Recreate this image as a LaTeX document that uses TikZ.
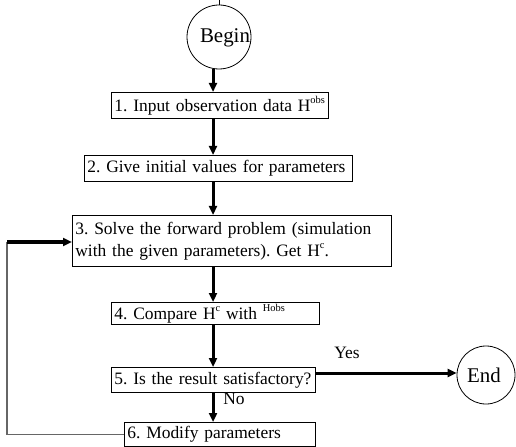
\documentclass[tikz,border=0pt]{standalone}
\usepackage{fontspec}
\setmainfont{Liberation Serif}
\usetikzlibrary{arrows.meta}
\newcommand\supx[1]{\raisebox{0.45em}{\fontsize{10.5}{10.5}\selectfont #1}}
\begin{document}
\frenchspacing
\begin{tikzpicture}[x=1bp,y=-1bp,
  font=\fontsize{17.5}{22}\selectfont\frenchspacing,
  box/.style={draw, line width=0.8bp, anchor=north west, align=left,
    inner xsep=3bp, inner ysep=0pt},
  term/.style={circle, draw, line width=0.8bp, inner sep=0pt},
  bigtxt/.style={font=\fontsize{21}{24}\selectfont, inner sep=0pt},
  arr/.style={line width=3bp, -{Triangle[length=9bp,width=8bp]}},
  fb/.style={line width=1.5bp, draw=black!60}]
\useasboundingbox (0,0) rectangle (516,447);
\coordinate (ax) at (213,0);
% terminals
\node[term, minimum size=64bp] (begin) at (219,37) {};
\node[bigtxt] (begintxt) at (225,38) {Begin};
\node[term, minimum size=58bp] (end) at (486,375) {};
\node[bigtxt] (endtxt) at (484,375) {End};
\draw[line width=0.6bp] (begin.north) -- ++(0,-5);
% boxes
\node[box, text width=211bp, minimum height=26bp] (b1) at (111,92)
  {\mbox{1. Input observation data H\supx{obs}}};
\node[box, text width=262bp, minimum height=26bp] (b2) at (84,155)
  {\mbox{2. Give initial values for parameters}};
\node[box, text width=313bp, minimum height=51bp] (b3) at (72,215)
  {\mbox{3. Solve the forward problem (simulation}\\\mbox{with the given parameters). Get H\supx{c}.}};
\node[box, text width=202bp, minimum height=22bp] (b4) at (111,302)
  {\mbox{4. Compare H\supx{c} with \supx{Hobs}}};
\node[box, text width=198bp, minimum height=25bp] (b5) at (111,367)
  {\mbox{5. Is the result satisfactory?}};
\node[box, text width=185bp, minimum height=24bp] (b6) at (124,422)
  {\mbox{6. Modify parameters}};
% labels
\node (yes) at (347,353) {Yes};
\node (no) at (234,399) {No};
% main arrows
\draw[arr] (begin.south -| ax) -- (b1.north -| ax);
\draw[arr] (b1.south -| ax) -- (b2.north -| ax);
\draw[arr] (b2.south -| ax) -- (b3.north -| ax);
\draw[arr] (b3.south -| ax) -- (b4.north -| ax);
\draw[arr] (b4.south -| ax) -- (b5.north -| ax);
\draw[arr] (b5.south -| ax) -- (b6.north -| ax);
\coordinate (yesy) at (0,373);
\draw[arr] (b5.east |- yesy) -- (end.west |- yesy);
% feedback
\coordinate (fbl) at (7,242);
\draw[fb] (b6.west) -- (b6.west -| fbl) -- (fbl);
\draw[arr] (fbl) -- (b3.west |- fbl);
\end{tikzpicture}
\end{document}
